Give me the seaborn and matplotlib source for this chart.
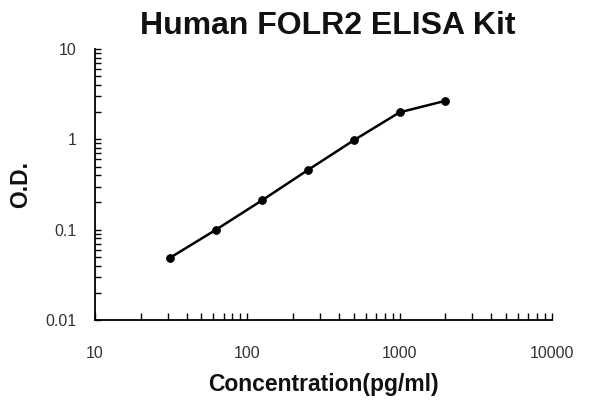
import matplotlib
matplotlib.use("Agg")
import matplotlib.pyplot as plt
import matplotlib.ticker as mticker
import seaborn as sns
import pandas as pd
import numpy as np

# Data
concentration = [31.25, 62.5, 125, 250, 500, 1000, 2000]
od = [0.049, 0.100, 0.211, 0.457, 0.975, 1.99, 2.67]

x_ticks = [10, 100, 1000, 10000]
x_tick_labels = ["10", "100", "1000", "10000"]
y_ticks = [0.01, 0.1, 1, 10]
y_tick_labels = ["0.01", "0.1", "1", "10"]

title = "Human FOLR2 ELISA Kit"
xlabel = "Concentration(pg/ml)"
ylabel = "O.D."

df = pd.DataFrame({"conc": concentration, "od": od})

sns.set_style("white")
plt.rcParams["font.family"] = ["Liberation Sans", "DejaVu Sans"]

fig = plt.figure(figsize=(6, 4), dpi=100)
ax = fig.add_axes([0.158, 0.2, 0.762, 0.6775])

sns.lineplot(data=df, x="conc", y="od", ax=ax, color="black", linewidth=1.8,
             marker="o", markersize=5.5, markeredgecolor="black",
             markerfacecolor="black")

ax.set_xscale("log")
ax.set_yscale("log")
ax.set_xlim(10, 10000)
ax.set_ylim(0.01, 10)

ax.xaxis.set_major_locator(mticker.FixedLocator(x_ticks))
ax.xaxis.set_major_formatter(mticker.FixedFormatter(x_tick_labels))
ax.yaxis.set_major_locator(mticker.FixedLocator(y_ticks))
ax.yaxis.set_major_formatter(mticker.FixedFormatter(y_tick_labels))
ax.xaxis.set_minor_locator(mticker.LogLocator(base=10, subs=np.arange(2, 10), numticks=20))
ax.yaxis.set_minor_locator(mticker.LogLocator(base=10, subs=np.arange(2, 10), numticks=20))
ax.xaxis.set_minor_formatter(mticker.NullFormatter())
ax.yaxis.set_minor_formatter(mticker.NullFormatter())

ax.tick_params(axis="x", which="both", direction="in", length=5, width=1,
               color="black", pad=19, labelsize=11.5, labelcolor="#333333",
               bottom=True)
ax.tick_params(axis="y", which="both", direction="in", length=4, width=1,
               color="black", pad=13, labelsize=11.5, labelcolor="#333333",
               left=True)

for s in ["top", "right"]:
    ax.spines[s].set_visible(False)
for s in ["left", "bottom"]:
    ax.spines[s].set_color("black")
    ax.spines[s].set_linewidth(1.3)

ax.set_title(title, fontsize=23, fontweight="bold", pad=11, color="#111111", x=0.51)
ax.set_xlabel(xlabel, fontsize=16.5, fontweight="bold", labelpad=8, color="#111111")
ax.set_ylabel(ylabel, fontsize=16.5, fontweight="bold", labelpad=10, color="#111111")
ax.grid(False)

fig.savefig("out.png", dpi=100)
